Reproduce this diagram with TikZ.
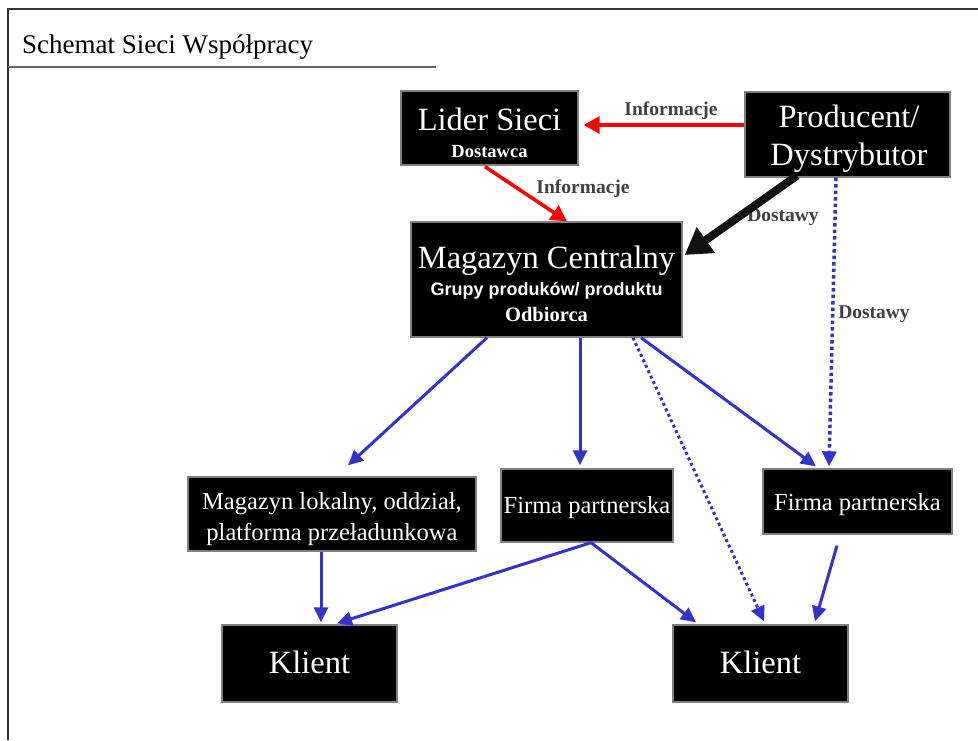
\documentclass[tikz,border=0pt]{standalone}
\usepackage{fontspec}
\setmainfont{Liberation Serif}
\newfontfamily\sansfnt{Liberation Sans}
\usetikzlibrary{arrows.meta,calc}
\definecolor{myblue}{RGB}{51,51,204}
\definecolor{lblgray}{RGB}{64,64,64}
\definecolor{boxedge}{RGB}{128,128,128}
\begin{document}
\begin{tikzpicture}[x=1pt,y=-1pt,
  box/.style={draw=boxedge, line width=1.3pt, fill=black, inner sep=0pt},
  txt/.style={text=white, inner sep=0pt, anchor=base},
  big/.style={txt, font=\fontsize{32.5}{37}\selectfont},
  mid/.style={txt, font=\fontsize{24.5}{29}\selectfont},
  lbl/.style={inner sep=0pt, text=lblgray, font=\fontsize{19.5}{23}\selectfont\bfseries},
  redarr/.style={draw=red, line width=3.5pt, -{Triangle[length=16pt,width=17pt]}},
  bluearr/.style={draw=myblue, line width=3pt, -{Triangle[length=15pt,width=14pt]}},
  bluedot/.style={draw=myblue, line width=3pt, dash pattern=on 3pt off 3pt, -{Triangle[length=15pt,width=14pt]}},
  blackarr/.style={draw=black!93, line width=8pt, -{Triangle[length=26pt,width=30pt]}}
]
\useasboundingbox (0,0) rectangle (978,740);
% frame
\draw[line width=2pt, black!80] (8,740) -- (8,9) -- (978,9);
\draw[line width=1.5pt, black!60] (8,67) -- (436,67);
\node[anchor=base west, inner sep=0pt, font=\fontsize{27}{31}\selectfont] (title) at (22,53) {Schemat Sieci Współpracy};

% boxes
\node[box, minimum width=177pt, minimum height=74pt] (lider) at (489.5,128) {};
\node[box, minimum width=205pt, minimum height=85pt] (pd) at (847.5,134.5) {};
\node[box, minimum width=271pt, minimum height=115pt] (mc) at (546.5,279.5) {};
\node[box, minimum width=288pt, minimum height=74pt] (ml) at (332,514) {};
\node[box, minimum width=172pt, minimum height=73pt] (f1) at (587,505.5) {};
\node[box, minimum width=189pt, minimum height=65pt] (f2) at (857.5,501.5) {};
\node[box, minimum width=175pt, minimum height=77pt] (k1) at (309.5,663.5) {};
\node[box, minimum width=175pt, minimum height=77pt] (k2) at (760.5,663.5) {};

% texts
\node[big] (liderA) at (489.5,130) {Lider Sieci};
\node[txt, font=\fontsize{18.5}{22}\selectfont\bfseries] (liderB) at (489.5,157) {Dostawca};
\node[big] (pdA) at (849,127) {Producent/};
\node[big] (pdB) at (849,165) {Dystrybutor};
\node[big] (mcA) at (546.5,268) {Magazyn Centralny};
\node[txt, font=\fontsize{18}{21}\sansfnt\bfseries] (mcB) at (546.5,295) {Grupy produków/ produktu};
\node[txt, font=\fontsize{20.5}{24}\selectfont\bfseries] (mcC) at (546.5,321) {Odbiorca};
\node[mid] (mlA) at (332,509) {Magazyn lokalny, oddział,};
\node[mid] (mlB) at (332,540) {platforma przeładunkowa};
\node[mid] (f1A) at (587,513) {Firma partnerska};
\node[mid] (f2A) at (857.5,510) {Firma partnerska};
\node[big] (k1A) at (309.5,673) {Klient};
\node[big] (k2A) at (760.5,673) {Klient};

% labels
\node[lbl] (inf1) at (671,111) {Informacje};
\node[lbl] (inf2) at (583,189) {Informacje};
\node[lbl] (dost1) at (783,217) {Dostawy};
\node[lbl] (dost2) at (874,314) {Dostawy};

% connectors
\draw[redarr] ([yshift=9.5pt]pd.west) -- ([xshift=5pt,yshift=3pt]lider.east);
\draw[redarr] ([xshift=-4.5pt,yshift=-1pt]lider.south) -- ([xshift=20.5pt]mc.north);
\draw[blackarr] ([xshift=-50.5pt,yshift=2pt]pd.south) -- ([xshift=2pt,yshift=24.5pt]mc.east);
\draw[bluedot, line width=3.5pt, dash pattern=on 3.5pt off 3pt] ([xshift=-11.5pt]pd.south) -- ([xshift=-28.5pt,yshift=2pt]f2.north);
\draw[bluearr] ([xshift=-59.5pt]mc.south) -- ([xshift=16pt,yshift=11pt]ml.north);
\draw[bluearr] ([xshift=33.5pt]mc.south) -- ([xshift=-7pt,yshift=3pt]f1.north);
\draw[bluearr] ([xshift=94.5pt]mc.south) -- ([xshift=-41.5pt,yshift=2pt]f2.north);
\draw[bluedot] ([xshift=86.5pt]mc.south) -- ([xshift=3.5pt,yshift=3pt]k2.north);
\draw[bluearr] ([xshift=-11pt]ml.south) -- ([xshift=11.5pt,yshift=2pt]k1.north);
\draw[bluearr] ([xshift=4pt]f1.south) -- ([xshift=27.5pt,yshift=1pt]k1.north);
\draw[bluearr] ([xshift=4pt]f1.south) -- ([xshift=-64.5pt,yshift=2pt]k2.north);
\draw[bluearr] ([xshift=-20.5pt,yshift=-11pt]f2.south) -- ([xshift=54.5pt,yshift=3pt]k2.north);
\end{tikzpicture}
\end{document}
